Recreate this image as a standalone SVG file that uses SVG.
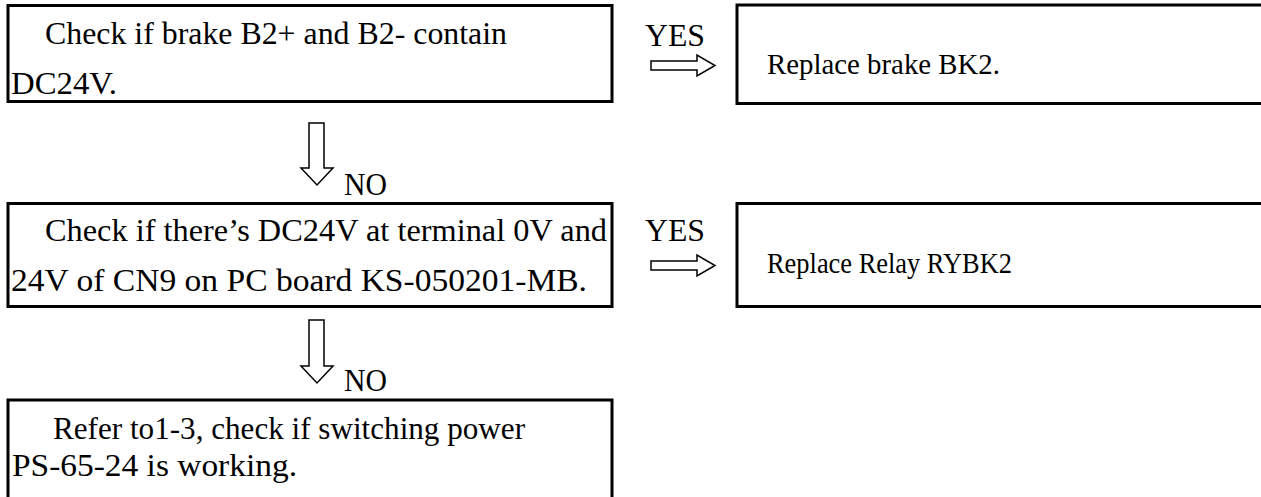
<svg xmlns="http://www.w3.org/2000/svg" width="1261" height="497" viewBox="0 0 1261 497">
<style>
.box{fill:#fff;stroke:#000;stroke-width:3}
.t{font-family:"Liberation Serif","Times New Roman",serif;font-size:31px;fill:#000}
.s{font-size:29px}
.arr{fill:#fff;stroke:#000;stroke-width:1.5;stroke-linejoin:miter}
</style>
<rect x="0" y="0" width="1261" height="497" fill="#fff"/>
<g id="n1">
<rect class="box" x="8" y="5.5" width="604" height="96"/>
<text class="t" x="45" y="44" textLength="462" lengthAdjust="spacingAndGlyphs">Check if brake B2+ and B2- contain</text>
<text class="t" x="11" y="94" textLength="106" lengthAdjust="spacingAndGlyphs">DC24V.</text>
</g>
<g id="n2">
<rect class="box" x="737" y="5" width="540" height="98.5"/>
<text class="t s" x="767" y="74" textLength="233" lengthAdjust="spacingAndGlyphs">Replace brake BK2.</text>
</g>
<g id="n3">
<rect class="box" x="8" y="203.5" width="604" height="103"/>
<text class="t" x="45" y="241" textLength="562" lengthAdjust="spacingAndGlyphs">Check if there’s DC24V  at terminal 0V and</text>
<text class="t" x="11" y="291" textLength="576" lengthAdjust="spacingAndGlyphs">24V of CN9 on PC board KS-050201-MB.</text>
</g>
<g id="n4">
<rect class="box" x="737" y="203.5" width="540" height="103"/>
<text class="t s" x="767" y="273" textLength="245" lengthAdjust="spacingAndGlyphs">Replace Relay RYBK2</text>
</g>
<g id="n5">
<rect class="box" x="8" y="400" width="604" height="110"/>
<text class="t" x="53" y="439" textLength="472" lengthAdjust="spacingAndGlyphs">Refer to1-3, check if switching power</text>
<text class="t" x="12" y="476" textLength="285" lengthAdjust="spacingAndGlyphs">PS-65-24 is working.</text>
</g>
<g id="connectors">
<path class="arr" d="M651,61 H697 V55 L715,65.5 L697,76 V70 H651 Z"/>
<text class="t" x="645" y="46" textLength="60" lengthAdjust="spacingAndGlyphs">YES</text>
<path class="arr" d="M651,261 H697 V255 L715,265.5 L697,276 V270 H651 Z"/>
<text class="t" x="645" y="241" textLength="60" lengthAdjust="spacingAndGlyphs">YES</text>
<path class="arr" d="M309,123 V168 H301 L317,185 L333,168 H324 V123 Z"/>
<text class="t" x="344" y="195" textLength="43" lengthAdjust="spacingAndGlyphs">NO</text>
<path class="arr" d="M309,320 V366 H301 L317,383 L333,366 H324 V320 Z"/>
<text class="t" x="344" y="391" textLength="43" lengthAdjust="spacingAndGlyphs">NO</text>
</g>
</svg>
